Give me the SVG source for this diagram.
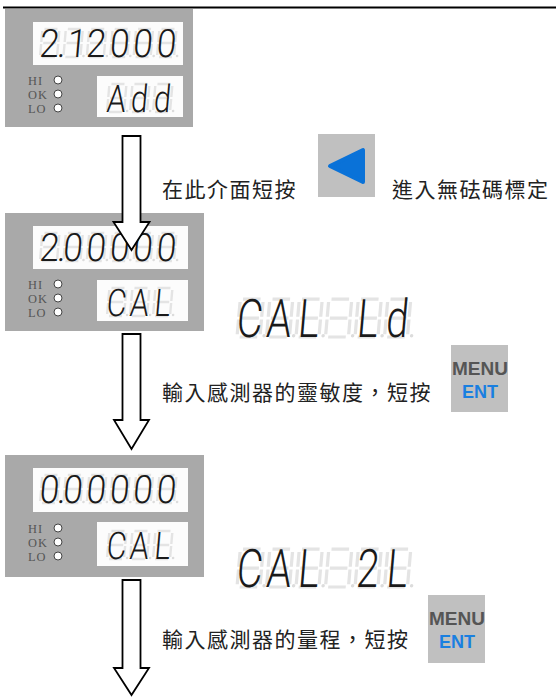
<svg xmlns="http://www.w3.org/2000/svg" xmlns:xlink="http://www.w3.org/1999/xlink" width="556" height="698" viewBox="0 0 556 698">
<style>
.panel{fill:#a9a9a9}
.disp{fill:#fcfcfc}
.led{font-family:"Liberation Serif","Times New Roman",serif;font-size:12.4px;fill:#555;letter-spacing:1px}
.ind{fill:#fff;stroke:#444;stroke-width:1}
.seg{font-family:Roboto,"DejaVu Sans",sans-serif;font-weight:300;fill:#1a1a1a;text-anchor:middle}
.ghost{fill:none;stroke:#e4e4e4;stroke-width:2.4}
.dp{fill:#dcdcdc}
.cn{font-family:"Noto Sans CJK TC","Noto Sans CJK SC",sans-serif;font-size:21px;fill:#222;letter-spacing:1.5px}
.arrow{fill:#fff;stroke:#000;stroke-width:1.8;stroke-linejoin:miter}
.key{fill:#c0c0c0}
.menu{font-family:"Liberation Sans",Arial,sans-serif;font-weight:bold;font-size:19px;fill:#555;text-anchor:middle}
.ent{font-family:"Liberation Sans",Arial,sans-serif;font-weight:bold;font-size:18px;fill:#1a7fe0;text-anchor:middle}
</style>
<defs>
<g id="g8">
<path class="ghost" d="M2,-28H15M0,-26V-15M17,-26V-15M2,-14H15M0,-13V-2M17,-13V-2M2,0H15"/>
<circle class="dp" cx="20" cy="-1" r="1.3"/>
</g>
</defs>

<line x1="3" y1="7.5" x2="556" y2="7.5" stroke="#000" stroke-width="2"/>

<g id="panel1">
<rect class="panel" x="5" y="9" width="188" height="118"/>
<rect class="disp" x="33" y="22" width="150" height="43"/>
<rect class="disp" x="97" y="76" width="86" height="41"/>
<g transform="translate(0,57) skewX(-5)">
<use xlink:href="#g8" x="40"/><use xlink:href="#g8" x="63.4"/><use xlink:href="#g8" x="86.8"/><use xlink:href="#g8" x="110.2"/><use xlink:href="#g8" x="133.6"/><use xlink:href="#g8" x="157"/>
</g>
<g transform="translate(0,57) skewX(-5) scale(0.9,1)">
<text class="seg" font-size="39" y="0" x="53.9 67.8 84.4 105.9 131.9 157.9 183.9">2.12000</text>
</g>
<g transform="translate(0,112) skewX(-5)">
<use xlink:href="#g8" x="107"/><use xlink:href="#g8" x="130"/><use xlink:href="#g8" x="153"/>
</g>
<g transform="translate(0,112) skewX(-5) scale(0.8,1)">
<text class="seg" font-size="38" y="0" x="144.4 173.1 201.9">Add</text>
</g>
<text class="led" x="28" y="85">HI</text>
<text class="led" x="28" y="99">OK</text>
<text class="led" x="28" y="113">LO</text>
<circle class="ind" cx="58" cy="80" r="4"/>
<circle class="ind" cx="58" cy="94" r="4"/>
<circle class="ind" cx="58" cy="108" r="4"/>
</g>

<g id="panel2">
<rect class="panel" x="5" y="213" width="199" height="118"/>
<rect class="disp" x="33" y="226" width="155" height="43"/>
<rect class="disp" x="97" y="280" width="91" height="41"/>
<g transform="translate(0,261) skewX(-5)">
<use xlink:href="#g8" x="40"/><use xlink:href="#g8" x="63.4"/><use xlink:href="#g8" x="86.8"/><use xlink:href="#g8" x="110.2"/><use xlink:href="#g8" x="133.6"/><use xlink:href="#g8" x="157"/>
</g>
<g transform="translate(0,261) skewX(-5) scale(0.9,1)">
<text class="seg" font-size="39" y="0" x="53.9 67.8 79.9 105.9 131.9 157.9 183.9">2.00000</text>
</g>
<g transform="translate(0,316) skewX(-5)">
<use xlink:href="#g8" x="107"/><use xlink:href="#g8" x="130"/><use xlink:href="#g8" x="153"/>
</g>
<g transform="translate(0,316) skewX(-5) scale(0.8,1)">
<text class="seg" font-size="38" y="0" x="144.4 173.1 201.9">CAL</text>
</g>
<text class="led" x="28" y="289">HI</text>
<text class="led" x="28" y="303">OK</text>
<text class="led" x="28" y="317">LO</text>
<circle class="ind" cx="58" cy="284" r="4"/>
<circle class="ind" cx="58" cy="298" r="4"/>
<circle class="ind" cx="58" cy="312" r="4"/>
</g>

<g id="panel3">
<rect class="panel" x="5" y="455" width="199" height="122"/>
<rect class="disp" x="33" y="468" width="155" height="44"/>
<rect class="disp" x="97" y="522" width="91" height="44"/>
<g transform="translate(0,503) skewX(-5)">
<use xlink:href="#g8" x="40"/><use xlink:href="#g8" x="63.4"/><use xlink:href="#g8" x="86.8"/><use xlink:href="#g8" x="110.2"/><use xlink:href="#g8" x="133.6"/><use xlink:href="#g8" x="157"/>
</g>
<g transform="translate(0,503) skewX(-5) scale(0.9,1)">
<text class="seg" font-size="39" y="0" x="53.9 67.8 79.9 105.9 131.9 157.9 183.9">0.00000</text>
</g>
<g transform="translate(0,559) skewX(-5)">
<use xlink:href="#g8" x="107"/><use xlink:href="#g8" x="130"/><use xlink:href="#g8" x="153"/>
</g>
<g transform="translate(0,559) skewX(-5) scale(0.8,1)">
<text class="seg" font-size="38" y="0" x="144.4 173.1 201.9">CAL</text>
</g>
<text class="led" x="28" y="533">HI</text>
<text class="led" x="28" y="547">OK</text>
<text class="led" x="28" y="561">LO</text>
<circle class="ind" cx="58" cy="528" r="4"/>
<circle class="ind" cx="58" cy="542" r="4"/>
<circle class="ind" cx="58" cy="556" r="4"/>
</g>

<g id="display-cal-ld">
<g transform="translate(0,337) skewX(-5)">
<use xlink:href="#g8" transform="translate(237,0) scale(1.35)"/><use xlink:href="#g8" transform="translate(266.5,0) scale(1.35)"/><use xlink:href="#g8" transform="translate(296,0) scale(1.35)"/><use xlink:href="#g8" transform="translate(325.5,0) scale(1.35)"/><use xlink:href="#g8" transform="translate(355,0) scale(1.35)"/><use xlink:href="#g8" transform="translate(384.5,0) scale(1.35)"/>
</g>
<g transform="translate(0,337) skewX(-5) scale(0.75,1)">
<text class="seg" font-size="53" y="0" x="331.3 370.7 410 449.3 488.7 528">CAL Ld</text>
</g>
</g>

<g id="display-cal-2l">
<g transform="translate(0,587) skewX(-5)">
<use xlink:href="#g8" transform="translate(237,0) scale(1.35)"/><use xlink:href="#g8" transform="translate(266.5,0) scale(1.35)"/><use xlink:href="#g8" transform="translate(296,0) scale(1.35)"/><use xlink:href="#g8" transform="translate(325.5,0) scale(1.35)"/><use xlink:href="#g8" transform="translate(355,0) scale(1.35)"/><use xlink:href="#g8" transform="translate(384.5,0) scale(1.35)"/>
</g>
<g transform="translate(0,587) skewX(-5) scale(0.75,1)">
<text class="seg" font-size="53" y="0" x="331.3 370.7 410 449.3 488.7 528">CAL 2L</text>
</g>
</g>

<g id="connectors">
<polygon class="arrow" points="122.5,136 140.5,136 140.5,222 149.5,222 131.5,250 113.5,222 122.5,222"/>
<polygon class="arrow" points="122.5,334 140.5,334 140.5,420 149,420 131.5,449 114,420 122.5,420"/>
<polygon class="arrow" points="122.5,580 140.5,580 140.5,668 149,668 131.5,695 114,668 122.5,668"/>
</g>

<g id="label1">
<text class="cn" x="162" y="197">在此介面短按</text>
<text class="cn" x="392" y="197">進入無砝碼標定</text>
</g>
<g id="key-left">
<rect class="key" x="318" y="134" width="57" height="63"/>
<path d="M330,166 L363,150 L363,182 Z" fill="#0a72d8" stroke="#0a72d8" stroke-width="4" stroke-linejoin="round"/>
</g>

<g id="label2">
<text class="cn" x="162" y="400">輸入感測器的靈敏度，短按</text>
</g>
<g id="key-menu1">
<rect class="key" x="451" y="345" width="57" height="67"/>
<text class="menu" x="480" y="375" textLength="56" lengthAdjust="spacingAndGlyphs">MENU</text>
<text class="ent" x="480" y="398">ENT</text>
</g>

<g id="label3">
<text class="cn" x="162" y="647" letter-spacing="2.2">輸入感測器的量程，短按</text>
</g>
<g id="key-menu2">
<rect class="key" x="428" y="595" width="57" height="68"/>
<text class="menu" x="457" y="625" textLength="56" lengthAdjust="spacingAndGlyphs">MENU</text>
<text class="ent" x="457" y="648">ENT</text>
</g>
</svg>
